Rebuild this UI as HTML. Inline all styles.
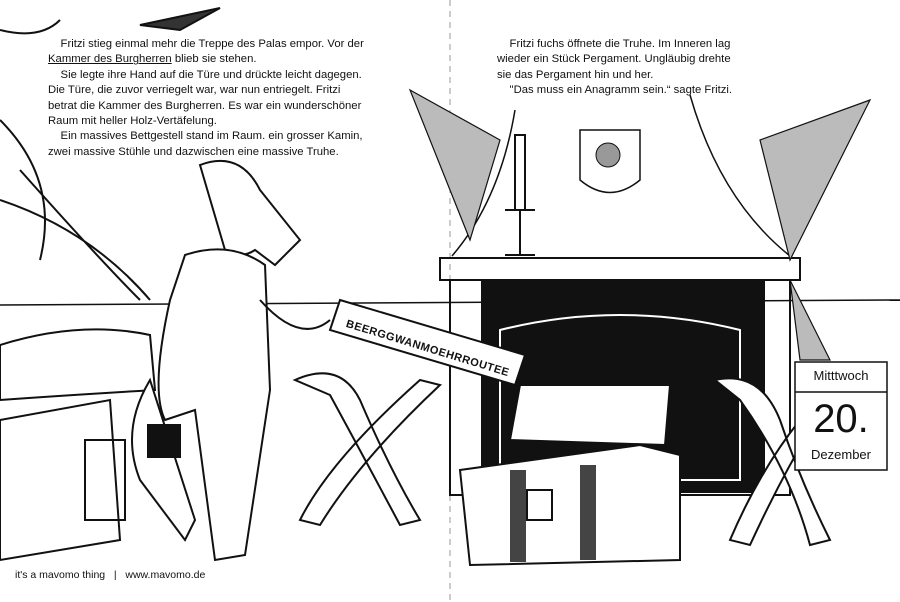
<!DOCTYPE html>
<html><head><meta charset="utf-8"><style>
body{margin:0;width:900px;height:602px;background:#fff;position:relative;overflow:hidden;font-family:"Liberation Sans",sans-serif;color:#111}
.t{position:absolute;font-size:11.3px;line-height:15.4px;white-space:nowrap}
</style></head><body>
<svg width="900" height="602" style="position:absolute;left:0;top:0" fill="none" stroke="#111" stroke-width="2">
<line x1="450" y1="0" x2="450" y2="602" stroke-dasharray="6,5" stroke-width="1" stroke="#999"/>
<path d="M0 30 Q40 40 60 20 M0 120 Q60 180 40 260 M0 200 Q90 230 150 300 M20 170 Q100 260 140 300"/>
<path d="M140 25 L220 8 L180 30 Z" fill="#333"/>
<path d="M0 345 Q80 320 150 335 L155 390 Q70 395 0 400 Z"/>
<path d="M0 420 L110 400 L120 540 L0 560 Z"/>
<rect x="85" y="440" width="40" height="80"/>
<line x1="0" y1="305" x2="900" y2="300" stroke-width="1.5"/>
<path d="M452 256 Q500 200 515 110 M690 95 Q720 200 790 256" stroke-width="1.5"/>
<rect x="440" y="258" width="360" height="22"/>
<rect x="450" y="280" width="340" height="215"/>
<rect x="482" y="282" width="282" height="210" fill="#111"/>
<path d="M500 330 Q620 300 740 330 L740 480 L500 480 Z" stroke="#fff" stroke-width="2"/>
<path d="M410 90 L500 140 L470 240 Z M870 100 L760 140 L790 260 Z M790 280 L830 360 L800 360 Z" fill="#bbb" stroke-width="1.2"/>
<path d="M580 130 L640 130 L640 180 Q610 205 580 180 Z" stroke-width="1.5"/>
<circle cx="608" cy="155" r="12" fill="#999" stroke-width="1"/>
<rect x="515" y="135" width="10" height="75"/>
<path d="M505 210 L535 210 M520 210 L520 255 M505 255 L535 255"/>
<path d="M520 385 L670 385 L665 445 L510 440 Z" fill="#fff"/>
<path d="M460 470 L640 445 L680 455 L680 560 L470 565 Z" fill="#fff"/>
<rect x="510" y="470" width="16" height="92" fill="#444" stroke="none"/>
<rect x="580" y="465" width="16" height="95" fill="#444" stroke="none"/>
<rect x="527" y="490" width="25" height="30" fill="#fff"/>
<path d="M295 380 Q340 360 360 400 Q390 470 420 520 L400 525 Q360 450 330 395 Z M300 520 Q330 460 420 380 L440 385 Q360 460 320 525 Z" fill="#fff"/>
<path d="M715 380 Q760 370 780 420 Q800 480 830 540 L810 545 Q790 470 740 400 Z M730 540 Q760 470 800 420 L810 430 Q780 480 750 545 Z" fill="#fff"/>
<path d="M200 165 Q240 150 260 190 L300 240 L275 265 L255 250 Q240 260 225 250 Z" fill="#fff"/>
<path d="M185 255 Q230 240 265 265 L270 390 L245 555 L215 560 L195 410 L165 420 Q150 390 170 300 Z" fill="#fff"/>
<path d="M150 380 Q120 430 140 480 L185 540 L195 520 Z" fill="#fff"/>
<path d="M260 300 Q300 345 330 320" />
<rect x="148" y="425" width="32" height="32" fill="#111"/>
<path d="M340 300 L525 355 L515 385 L330 330 Z" fill="#fff"/>
<rect x="795" y="362" width="92" height="108" fill="#fff" stroke-width="1.5"/>
<line x1="795" y1="392" x2="887" y2="392" stroke-width="1.5"/>
</svg>
<div class="t" style="left:48px;top:37px">&nbsp;&nbsp;&nbsp;&nbsp;Fritzi stieg einmal mehr die Treppe des Palas empor. Vor der<br><u>Kammer des Burgherren</u> blieb sie stehen.<br>&nbsp;&nbsp;&nbsp;&nbsp;Sie legte ihre Hand auf die Türe und drückte leicht dagegen.<br>Die Türe, die zuvor verriegelt war, war nun entriegelt. Fritzi<br>betrat die Kammer des Burgherren. Es war ein wunderschöner<br>Raum mit heller Holz-Vertäfelung.<br>&nbsp;&nbsp;&nbsp;&nbsp;Ein massives Bettgestell stand im Raum. ein grosser Kamin,<br>zwei massive Stühle und dazwischen eine massive Truhe.</div>
<div class="t" style="left:497px;top:37px">&nbsp;&nbsp;&nbsp;&nbsp;Fritzi fuchs öffnete die Truhe. Im Inneren lag<br>wieder ein Stück Pergament. Ungläubig drehte<br>sie das Pergament hin und her.<br>&nbsp;&nbsp;&nbsp;&nbsp;"Das muss ein Anagramm sein.“ sagte Fritzi.</div>
<div style="position:absolute;left:348px;top:318px;transform:rotate(17deg);transform-origin:left top;font-size:11px;font-weight:bold;letter-spacing:0.5px">BEERGGWANMOEHRROUTEE</div>
<div style="position:absolute;left:795px;top:368px;width:92px;text-align:center;font-size:13px">Mitttwoch</div>
<div style="position:absolute;left:795px;top:396px;width:92px;text-align:center;font-size:40px;line-height:46px">20.</div>
<div style="position:absolute;left:795px;top:447px;width:92px;text-align:center;font-size:13px">Dezember</div>
<div style="position:absolute;left:15px;top:569px;font-size:10.5px">it's a mavomo thing &nbsp;&nbsp;| &nbsp;&nbsp;www.mavomo.de</div>
</body></html>
